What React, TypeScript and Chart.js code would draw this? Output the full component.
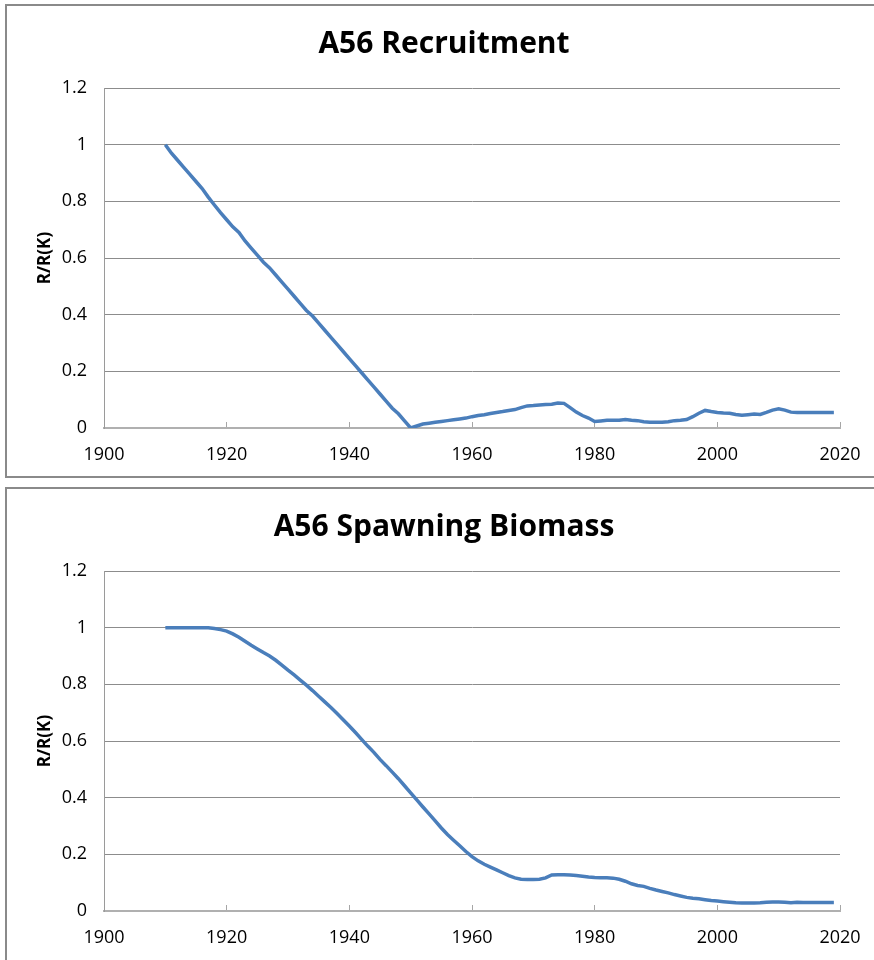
import React, { useEffect, useRef } from "react";
import { Chart, registerables } from "chart.js";

Chart.register(...registerables);

const YEARS = [
  1910, 1911, 1912, 1913, 1914, 1915, 1916, 1917, 1918, 1919,
  1920, 1921, 1922, 1923, 1924, 1925, 1926, 1927, 1928, 1929,
  1930, 1931, 1932, 1933, 1934, 1935, 1936, 1937, 1938, 1939,
  1940, 1941, 1942, 1943, 1944, 1945, 1946, 1947, 1948, 1949,
  1950, 1951, 1952, 1953, 1954, 1955, 1956, 1957, 1958, 1959,
  1960, 1961, 1962, 1963, 1964, 1965, 1966, 1967, 1968, 1969,
  1970, 1971, 1972, 1973, 1974, 1975, 1976, 1977, 1978, 1979,
  1980, 1981, 1982, 1983, 1984, 1985, 1986, 1987, 1988, 1989,
  1990, 1991, 1992, 1993, 1994, 1995, 1996, 1997, 1998, 1999,
  2000, 2001, 2002, 2003, 2004, 2005, 2006, 2007, 2008, 2009,
  2010, 2011, 2012, 2013, 2014, 2015, 2016, 2017, 2018, 2019,
];

const RECRUITMENT = [
  1.0, 0.97, 0.945, 0.92, 0.895, 0.87, 0.845, 0.815, 0.787, 0.76,
  0.735, 0.71, 0.69, 0.66, 0.635, 0.61, 0.585, 0.565, 0.54, 0.515,
  0.49, 0.465, 0.44, 0.415, 0.395, 0.37, 0.345, 0.32, 0.295, 0.27,
  0.245, 0.22, 0.195, 0.17, 0.145, 0.12, 0.095, 0.07, 0.05, 0.025,
  0.0, 0.007, 0.014, 0.017, 0.02, 0.023, 0.026, 0.029, 0.032, 0.035,
  0.04, 0.044, 0.047, 0.051, 0.055, 0.058, 0.062, 0.065, 0.072, 0.078,
  0.079, 0.081, 0.083, 0.084, 0.088, 0.087, 0.072, 0.056, 0.044, 0.035,
  0.023, 0.025, 0.027, 0.027, 0.027, 0.03, 0.027, 0.026, 0.022, 0.02,
  0.02, 0.02, 0.022, 0.026, 0.027, 0.03, 0.04, 0.052, 0.062, 0.058,
  0.055, 0.053, 0.052, 0.048, 0.045, 0.047, 0.049, 0.048, 0.055, 0.063,
  0.068, 0.063, 0.056, 0.055, 0.055, 0.055, 0.055, 0.055, 0.055, 0.055,
];

const SPAWNING_BIOMASS = [
  1.0, 1.0, 1.0, 1.0, 1.0, 1.0, 1.0, 1.0, 0.997, 0.993,
  0.988, 0.978, 0.966, 0.952, 0.938, 0.925, 0.912, 0.9, 0.885, 0.868,
  0.85, 0.833, 0.815, 0.797, 0.778, 0.758, 0.738, 0.718, 0.697, 0.675,
  0.653, 0.63, 0.606, 0.582, 0.56, 0.535, 0.513, 0.49, 0.467, 0.442,
  0.417, 0.392, 0.367, 0.343, 0.318, 0.293, 0.27, 0.25, 0.23, 0.21,
  0.192, 0.177, 0.165, 0.155, 0.145, 0.135, 0.125, 0.117, 0.112, 0.111,
  0.111, 0.112, 0.117, 0.127, 0.128, 0.128, 0.127, 0.125, 0.123, 0.12,
  0.118, 0.117, 0.117, 0.116, 0.112, 0.105, 0.096, 0.09, 0.087, 0.08,
  0.074, 0.069, 0.064, 0.058, 0.053, 0.048, 0.045, 0.043, 0.04, 0.037,
  0.035, 0.033, 0.031, 0.029, 0.028, 0.028, 0.028, 0.029, 0.031, 0.032,
  0.032, 0.031, 0.029, 0.031, 0.03, 0.03, 0.03, 0.03, 0.03, 0.03,
];

const X_MIN = 1900;
const X_MAX = 2020;
const X_STEP = 20;
const Y_MIN = 0;
const Y_MAX = 1.2;
const Y_STEP = 0.2;
const Y_AXIS_TITLE = "R/R(K)";
const TITLES = ["A56 Recruitment", "A56 Spawning Biomass"];

const FONT = "'Open Sans', 'Noto Sans', 'DejaVu Sans', sans-serif";

function LineChart({ title, values }: { title: string; values: number[] }) {
  const ref = useRef<HTMLCanvasElement | null>(null);
  useEffect(() => {
    if (!ref.current) return;
    const chart = new Chart(ref.current, {
      type: "line",
      data: {
        datasets: [
          {
            data: YEARS.map((y, i) => ({ x: y, y: values[i] })),
            borderColor: "#4a7ebb",
            borderWidth: 3.5,
            pointRadius: 0,
            tension: 0,
            fill: false,
          },
        ],
      },
      options: {
        animation: false,
        responsive: false,
        maintainAspectRatio: false,
        layout: { padding: { left: 48, right: 46, top: 0, bottom: 0 } },
        plugins: {
          legend: { display: false },
          tooltip: { enabled: false },
          title: {
            display: true,
            text: title,
            color: "#000",
            font: { family: FONT, size: 30, weight: "bold", lineHeight: 1.2 },
            padding: { top: 26, bottom: 26 },
          },
        },
        scales: {
          x: {
            type: "linear",
            min: X_MIN,
            max: X_MAX,
            afterFit: (s: any) => {
              s.height = 52;
            },
            ticks: {
              stepSize: X_STEP,
              color: "#000",
              font: { family: FONT, size: 18 },
              padding: 22,
              maxRotation: 0,
              callback: (v: any) => String(v),
            },
            grid: {
              drawOnChartArea: false,
              drawTicks: true,
              tickLength: -6,
              color: "#a6a6a6",
              tickColor: "#a6a6a6",
            },
            border: { display: true, color: "#b0b0b0", width: 2 },
          },
          y: {
            type: "linear",
            min: Y_MIN,
            max: Y_MAX,
            afterFit: (s: any) => {
              s.width = 56;
            },
            ticks: {
              stepSize: Y_STEP,
              color: "#000",
              font: { family: FONT, size: 18 },
              padding: 17,
              callback: (v: any) => String(Math.round(Number(v) * 10) / 10),
            },
            grid: { drawTicks: false, color: "#8c8c8c", lineWidth: 1 },
            border: { display: true, color: "#9a9a9a", width: 1 },
            title: {
              display: true,
              text: Y_AXIS_TITLE,
              color: "#000",
              font: { family: FONT, size: 17, weight: "bold", lineHeight: 1.2 },
              padding: { top: -13.2, bottom: 0 },
            },
          },
        },
      },
    } as any);
    return () => chart.destroy();
  }, [title, values]);
  return <canvas ref={ref} width={886} height={480} style={{ width: 886, height: 480, display: "block" }} />;
}

export default function App() {
  useEffect(() => {
    document.body.style.margin = "0";
  }, []);
  return (
    <div
      style={{
        position: "absolute",
        left: 0,
        top: 0,
        width: 874,
        height: 960,
        overflow: "hidden",
        background: "#fff",
      }}
    >
      <div
        style={{
          position: "absolute",
          left: 5,
          top: 4,
          width: 880,
          height: 474,
          border: "2px solid #8a8a8a",
          boxSizing: "border-box",
        }}
      />
      <div
        style={{
          position: "absolute",
          left: 5,
          top: 487,
          width: 880,
          height: 490,
          border: "2px solid #8a8a8a",
          boxSizing: "border-box",
        }}
      />
      <div style={{ position: "absolute", left: 0, top: 0 }}>
        <LineChart title={TITLES[0]} values={RECRUITMENT} />
      </div>
      <div style={{ position: "absolute", left: 0, top: 483 }}>
        <LineChart title={TITLES[1]} values={SPAWNING_BIOMASS} />
      </div>
    </div>
  );
}
